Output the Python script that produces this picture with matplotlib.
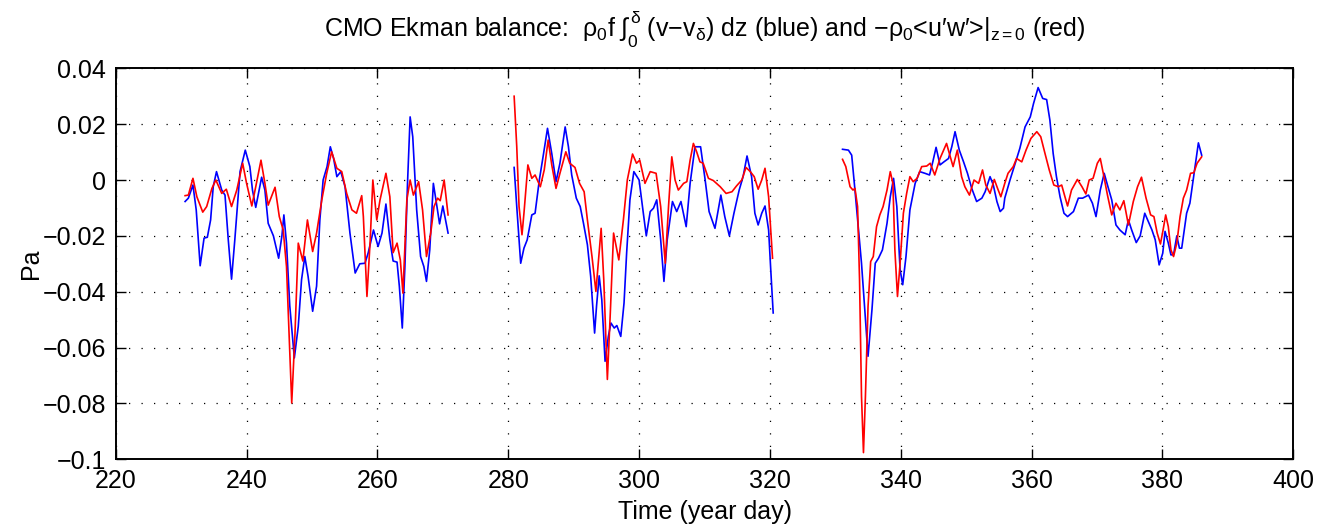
import matplotlib
matplotlib.use('Agg')
import matplotlib.pyplot as plt
from matplotlib.ticker import FuncFormatter

plt.rcParams['font.family'] = ['Liberation Sans', 'DejaVu Sans']
plt.rcParams['mathtext.fontset'] = 'custom'
plt.rcParams['mathtext.rm'] = 'Liberation Sans'
plt.rcParams['mathtext.it'] = 'Liberation Sans'
plt.rcParams['mathtext.bf'] = 'Liberation Sans:bold'

# --- segment 1 (day ~231-271) ---
blue1_t = [230.6, 231.1, 231.8, 232.3, 232.9, 233.5, 234.0, 234.5, 234.9, 235.4,
           236.2, 236.7, 237.2, 237.7, 238.2, 239.0, 239.8, 240.5, 240.9, 241.4,
           242.3, 242.8, 243.3, 244.1, 244.9, 245.4, 245.7, 246.1, 246.6, 247.3,
           247.9, 248.4, 248.9, 249.4, 250.1, 250.7, 251.2, 251.7, 252.3, 252.8,
           253.3, 253.8, 254.4, 255.05, 255.8, 256.6, 257.3, 258.1, 258.6, 259.4,
           260.1, 260.7, 261.3, 261.9, 262.4, 263.0, 263.35, 263.8, 264.2, 264.6,
           265.0, 265.4, 266.0, 266.6, 267.1, 267.5, 268.0, 268.55, 269.1, 269.5,
           270.0, 270.8]
blue1_v = [-0.0077, -0.0065, -0.0018, -0.0107, -0.0307, -0.0208, -0.0205, -0.0143, -0.0024, 0.003,
           -0.0036, -0.0054, -0.0214, -0.0355, -0.0214, 0.003, 0.0107, 0.0048, -0.0036, -0.0098,
           0.001, -0.0036, -0.0155, -0.020, -0.028, -0.020, -0.0125, -0.0226, -0.045, -0.0637,
           -0.0524, -0.0357, -0.0274, -0.0345, -0.047, -0.038, -0.0143, 0.0, 0.0048, 0.0119,
           0.0077, 0.0012, 0.003, -0.0024, -0.019, -0.0333, -0.030, -0.0298, -0.026, -0.0179,
           -0.0238, -0.019, -0.0086, -0.0214, -0.029, -0.0294, -0.038, -0.053, -0.031, -0.0012,
           0.0226, 0.0155, -0.0107, -0.0274, -0.031, -0.0363, -0.025, -0.0012, -0.0095, -0.0157,
           -0.0093, -0.019]
red1_t = [230.6, 231.1, 231.8, 232.4, 233.3, 233.9, 234.7, 235.3, 236.2, 236.9,
          237.7, 238.5, 239.4, 240.0, 240.8, 241.4, 242.2, 242.8, 243.3, 244.35,
          245.0, 245.6, 246.1, 246.9, 247.4, 247.9, 248.6, 249.3, 250.1, 250.7,
          251.5, 252.25, 253.0, 253.8, 254.55, 255.3, 256.1, 256.8, 257.6, 257.85,
          258.4, 258.9, 259.3, 259.9, 260.4, 261.3, 261.9, 262.4, 263.0, 263.5,
          263.9, 264.5, 265.0, 265.5, 266.3, 266.9, 267.5, 268.15, 268.65, 269.2,
          269.6, 270.2, 270.8]
red1_v = [-0.0056, -0.0054, 0.0006, -0.006, -0.0115, -0.0095, -0.003, 0.0, -0.0048, -0.0033,
          -0.0095, -0.0036, 0.006, -0.0012, -0.0093, -0.0024, 0.0071, -0.0012, -0.009, -0.0026,
          -0.0131, -0.0179, -0.031, -0.0798, -0.0548, -0.0226, -0.029, -0.0143, -0.0256, -0.019,
          -0.0071, 0.0024, 0.0101, 0.0042, 0.003, -0.0048, -0.0107, -0.0119, -0.0056, -0.0131,
          -0.0417, -0.0214, 0.0, -0.0143, -0.0071, 0.0024, -0.006, -0.026, -0.0226, -0.0286,
          -0.0405, -0.0071, 0.0, -0.0054, -0.0006, -0.0107, -0.0274, -0.019, -0.0095, -0.0065,
          -0.0074, 0.0, -0.0125]

# --- segment 2 (day ~281-320) ---
blue2_t = [280.9, 281.3, 281.9, 282.4, 282.9, 283.6, 284.1, 284.75, 285.4, 286.0,
           286.65, 287.3, 287.9, 288.7, 289.2, 289.7, 290.4, 291.0, 291.5, 292.1,
           292.6, 293.2, 293.5, 293.9, 294.3, 294.8, 295.3, 295.7, 296.2, 296.6,
           297.2, 297.7, 298.1, 298.6, 299.2, 300.0, 300.65, 301.1, 301.7, 302.2,
           302.7, 303.3, 303.8, 304.3, 305.1, 305.75, 306.4, 307.2, 307.8, 308.55,
           309.4, 310.1, 310.7, 311.6, 312.5, 313.1, 313.8, 314.5, 315.3, 315.9,
           316.5, 317.2, 317.7, 318.2, 318.75, 319.25, 319.8, 320.1, 320.5]
blue2_v = [0.0045, -0.0095, -0.0298, -0.0244, -0.0214, -0.0125, -0.0119, 0.0, 0.0095, 0.0185,
           0.0095, -0.0006, 0.006, 0.019, 0.0119, 0.0018, -0.0065, -0.0095, -0.0155, -0.0232,
           -0.0345, -0.0548, -0.045, -0.0343, -0.0429, -0.0649, -0.056, -0.0512, -0.053, -0.0521,
           -0.056, -0.044, -0.026, -0.0071, 0.003, 0.0, -0.0119, -0.020, -0.0113, -0.0101,
           -0.0071, -0.0214, -0.0363, -0.0214, -0.0077, -0.0113, -0.0077, -0.0167, -0.0012, 0.0119,
           0.0119, 0.0, -0.0113, -0.0173, -0.0054, -0.0131, -0.020, -0.0119, -0.0036, 0.0012,
           0.0086, 0.0012, -0.0119, -0.0161, -0.0119, -0.0093, -0.0179, -0.031, -0.0476]
red2_t = [280.9, 281.3, 281.65, 282.1, 282.4, 283.0, 283.6, 284.1, 284.9, 285.5,
          286.1, 286.65, 287.3, 287.9, 288.8, 289.4, 290.2, 290.9, 291.6, 292.1,
          292.8, 293.4, 294.2, 294.6, 295.15, 295.6, 296.1, 296.9, 297.6, 298.2,
          299.0, 299.6, 300.1, 300.9, 301.7, 302.6, 303.3, 304.0, 304.5, 305.0,
          305.5, 306.0, 306.8, 307.3, 307.8, 308.3, 308.8, 309.3, 309.8, 310.6,
          311.35, 312.4, 313.3, 314.2, 314.9, 315.7, 316.35, 317.0, 317.6, 318.2,
          318.75, 319.25, 319.8, 320.4]
red2_v = [0.030, 0.0119, -0.0095, -0.0196, -0.0119, 0.0054, 0.0006, 0.0018, -0.0024, 0.0036,
          0.0143, 0.0054, -0.003, 0.0024, 0.0101, 0.006, 0.0045, -0.0012, -0.0042, -0.0143,
          -0.0274, -0.0399, -0.0173, -0.0357, -0.0714, -0.0476, -0.019, -0.0286, -0.0143, 0.0,
          0.0093, 0.006, 0.0071, -0.0012, 0.003, 0.0024, -0.0095, -0.0298, -0.0095, 0.0083,
          0.0, -0.0036, -0.0012, -0.0006, 0.0071, 0.0131, 0.0101, 0.0065, 0.006, 0.0006,
          -0.0002, -0.0024, -0.0048, -0.0042, -0.0021, 0.0, 0.0045, 0.003, 0.0012, -0.0033,
          0.0, 0.0042, -0.006, -0.028]

# --- segment 3 (day ~331-386) ---
blue3_t = [331.1, 332.0, 332.5, 333.0, 333.5, 334.0, 334.5, 335.0, 335.6, 336.1,
           336.6, 337.2, 337.9, 338.4, 338.9, 339.4, 339.9, 340.3, 340.8, 341.4,
           342.2, 342.9, 343.7, 344.4, 344.9, 345.4, 346.0, 346.6, 347.3, 347.8,
           348.3, 348.95, 349.6, 350.2, 350.85, 351.6, 352.4, 352.9, 353.65, 354.15,
           354.7, 355.2, 355.7, 355.9, 356.7, 357.5, 358.2, 359.0, 359.8, 360.3,
           361.0, 361.7, 362.3, 362.8, 363.3, 363.8, 364.35, 364.95, 365.5, 366.4,
           367.15, 367.8, 368.7, 369.3, 369.85, 370.5, 371.1, 371.6, 372.25, 372.9,
           373.5, 374.3, 374.8, 375.3, 376.0, 376.6, 377.3, 378.4, 378.9, 379.5,
           380.05, 380.4, 380.9, 381.3, 381.7, 382.2, 382.6, 382.95, 383.7, 384.2,
           384.7, 385.5, 386.0]
blue3_v = [0.011, 0.0107, 0.0089, -0.0036, -0.0167, -0.0298, -0.0464, -0.0631, -0.0464, -0.0298,
           -0.028, -0.025, -0.0155, -0.006, 0.0006, -0.0095, -0.0321, -0.0375, -0.0274, -0.0107,
           -0.0012, 0.003, 0.0024, 0.0018, 0.0065, 0.0117, 0.0054, 0.0065, 0.0077, 0.0119,
           0.0173, 0.0107, 0.0065, 0.0024, -0.003, -0.0077, -0.0065, -0.0042, 0.0012, -0.0018,
           -0.0077, -0.0113, -0.0101, -0.0065, 0.0, 0.006, 0.0113, 0.019, 0.0226, 0.0274,
           0.0331, 0.0292, 0.0288, 0.0214, 0.0095, 0.0012, -0.006, -0.0119, -0.0131, -0.0113,
           -0.0065, -0.0065, -0.0054, -0.0083, -0.0131, -0.0036, 0.0024, -0.0018, -0.0071, -0.0161,
           -0.0179, -0.0196, -0.0143, -0.0179, -0.0224, -0.020, -0.0119, -0.0179, -0.0214, -0.0304,
           -0.0262, -0.0184, -0.0226, -0.0268, -0.0268, -0.020, -0.0244, -0.0244, -0.0119, -0.0083,
           0.0, 0.0133, 0.0089]
red3_t = [331.1, 331.6, 332.25, 332.7, 333.0, 333.4, 333.7, 334.0, 334.3, 334.6,
          335.0, 335.4, 335.8, 336.3, 336.8, 337.3, 337.9, 338.4, 338.8, 339.1,
          339.5, 339.9, 340.4, 340.9, 341.4, 341.9, 342.5, 343.2, 343.97, 344.5,
          345.2, 346.0, 347.0, 347.5, 348.0, 348.65, 349.3, 349.8, 350.5, 351.2,
          351.9, 352.5, 353.0, 353.65, 354.3, 354.8, 355.3, 355.9, 356.4, 357.2,
          357.7, 358.5, 359.15, 359.9, 360.8, 361.4, 362.05, 362.7, 363.4, 364.1,
          364.6, 365.1, 365.5, 366.1, 367.0, 367.7, 368.3, 368.8, 369.4, 370.05,
          370.5, 370.96, 371.6, 372.25, 372.9, 373.5, 374.1, 374.8, 375.55, 376.2,
          376.8, 377.5, 378.2, 378.7, 379.2, 379.7, 380.1, 380.5, 380.9, 381.3,
          381.7, 382.2, 382.7, 383.2, 383.7, 384.3, 384.8, 385.3, 386.0]
red3_v = [0.0074, 0.0048, -0.0024, -0.0036, -0.003, -0.0095, -0.0357, -0.0774, -0.0976, -0.0774,
          -0.0452, -0.0292, -0.0274, -0.0167, -0.0125, -0.0095, -0.0036, 0.003, -0.0012, -0.025,
          -0.0417, -0.0298, -0.0119, -0.0048, 0.0012, -0.0006, 0.0006, 0.0048, 0.005, 0.006,
          0.0018, 0.0077, 0.0131, 0.0089, 0.0048, 0.0107, 0.0012, -0.0024, -0.0054, 0.0,
          -0.0012, 0.0036, -0.0018, -0.0048, 0.0002, -0.003, -0.006, -0.0012, 0.0024, 0.0048,
          0.0077, 0.0065, 0.0107, 0.0149, 0.0173, 0.0155, 0.0095, 0.0036, -0.0018, -0.0024,
          -0.0018, -0.006, -0.0093, -0.0036, 0.0002, -0.0024, -0.005, 0.0, 0.0006, 0.006,
          0.0077, 0.0024, -0.0054, -0.0125, -0.0083, -0.0107, -0.0074, -0.0161, -0.0077, -0.0024,
          0.001, -0.0065, -0.0125, -0.0131, -0.019, -0.0229, -0.0179, -0.0125, -0.0167, -0.025,
          -0.0274, -0.0226, -0.0131, -0.0065, -0.0036, 0.0024, 0.0026, 0.006, 0.0083]

x_ticks = [220, 240, 260, 280, 300, 320, 340, 360, 380, 400]
y_ticks = [-0.1, -0.08, -0.06, -0.04, -0.02, 0, 0.02, 0.04]

fig = plt.figure(figsize=(13.29, 5.31), dpi=100)
ax = fig.add_axes([0.0871, 0.1350, 0.8860, 0.7364])

for t, v in [(blue1_t, blue1_v), (blue2_t, blue2_v), (blue3_t, blue3_v)]:
    ax.plot(t, v, color='b', lw=1.2)
for t, v in [(red1_t, red1_v), (red2_t, red2_v), (red3_t, red3_v)]:
    ax.plot(t, v, color='r', lw=1.2)

ax.set_xlim(220, 400)
ax.set_ylim(-0.1, 0.04)
ax.set_xticks(x_ticks)
ax.set_yticks(y_ticks)
ax.yaxis.set_major_formatter(FuncFormatter(lambda v, p: ('%g' % round(v, 3)).replace('-', '\u2212')))

ax.grid(True, color='k', linestyle=(0, (1, 9)), lw=0.9)
ax.tick_params(direction='in', length=7, width=1.0, top=True, right=True, labelsize=18, pad=7)
for s in ax.spines.values():
    s.set_linewidth(1.4)

ax.set_xlabel('Time (year day)', fontsize=18, labelpad=5)
ax.set_ylabel('Pa', fontsize=18, labelpad=0)
ax.set_title(r'CMO Ekman balance:  $\rho_0$f $\int_0^\delta$ (v$-$v$_\delta$) dz (blue) and '
             r'$-\rho_0$<u$\prime$w$\prime$>$|_{z=0}$ (red)', fontsize=18, pad=22)

fig.savefig('out.png', dpi=100)
